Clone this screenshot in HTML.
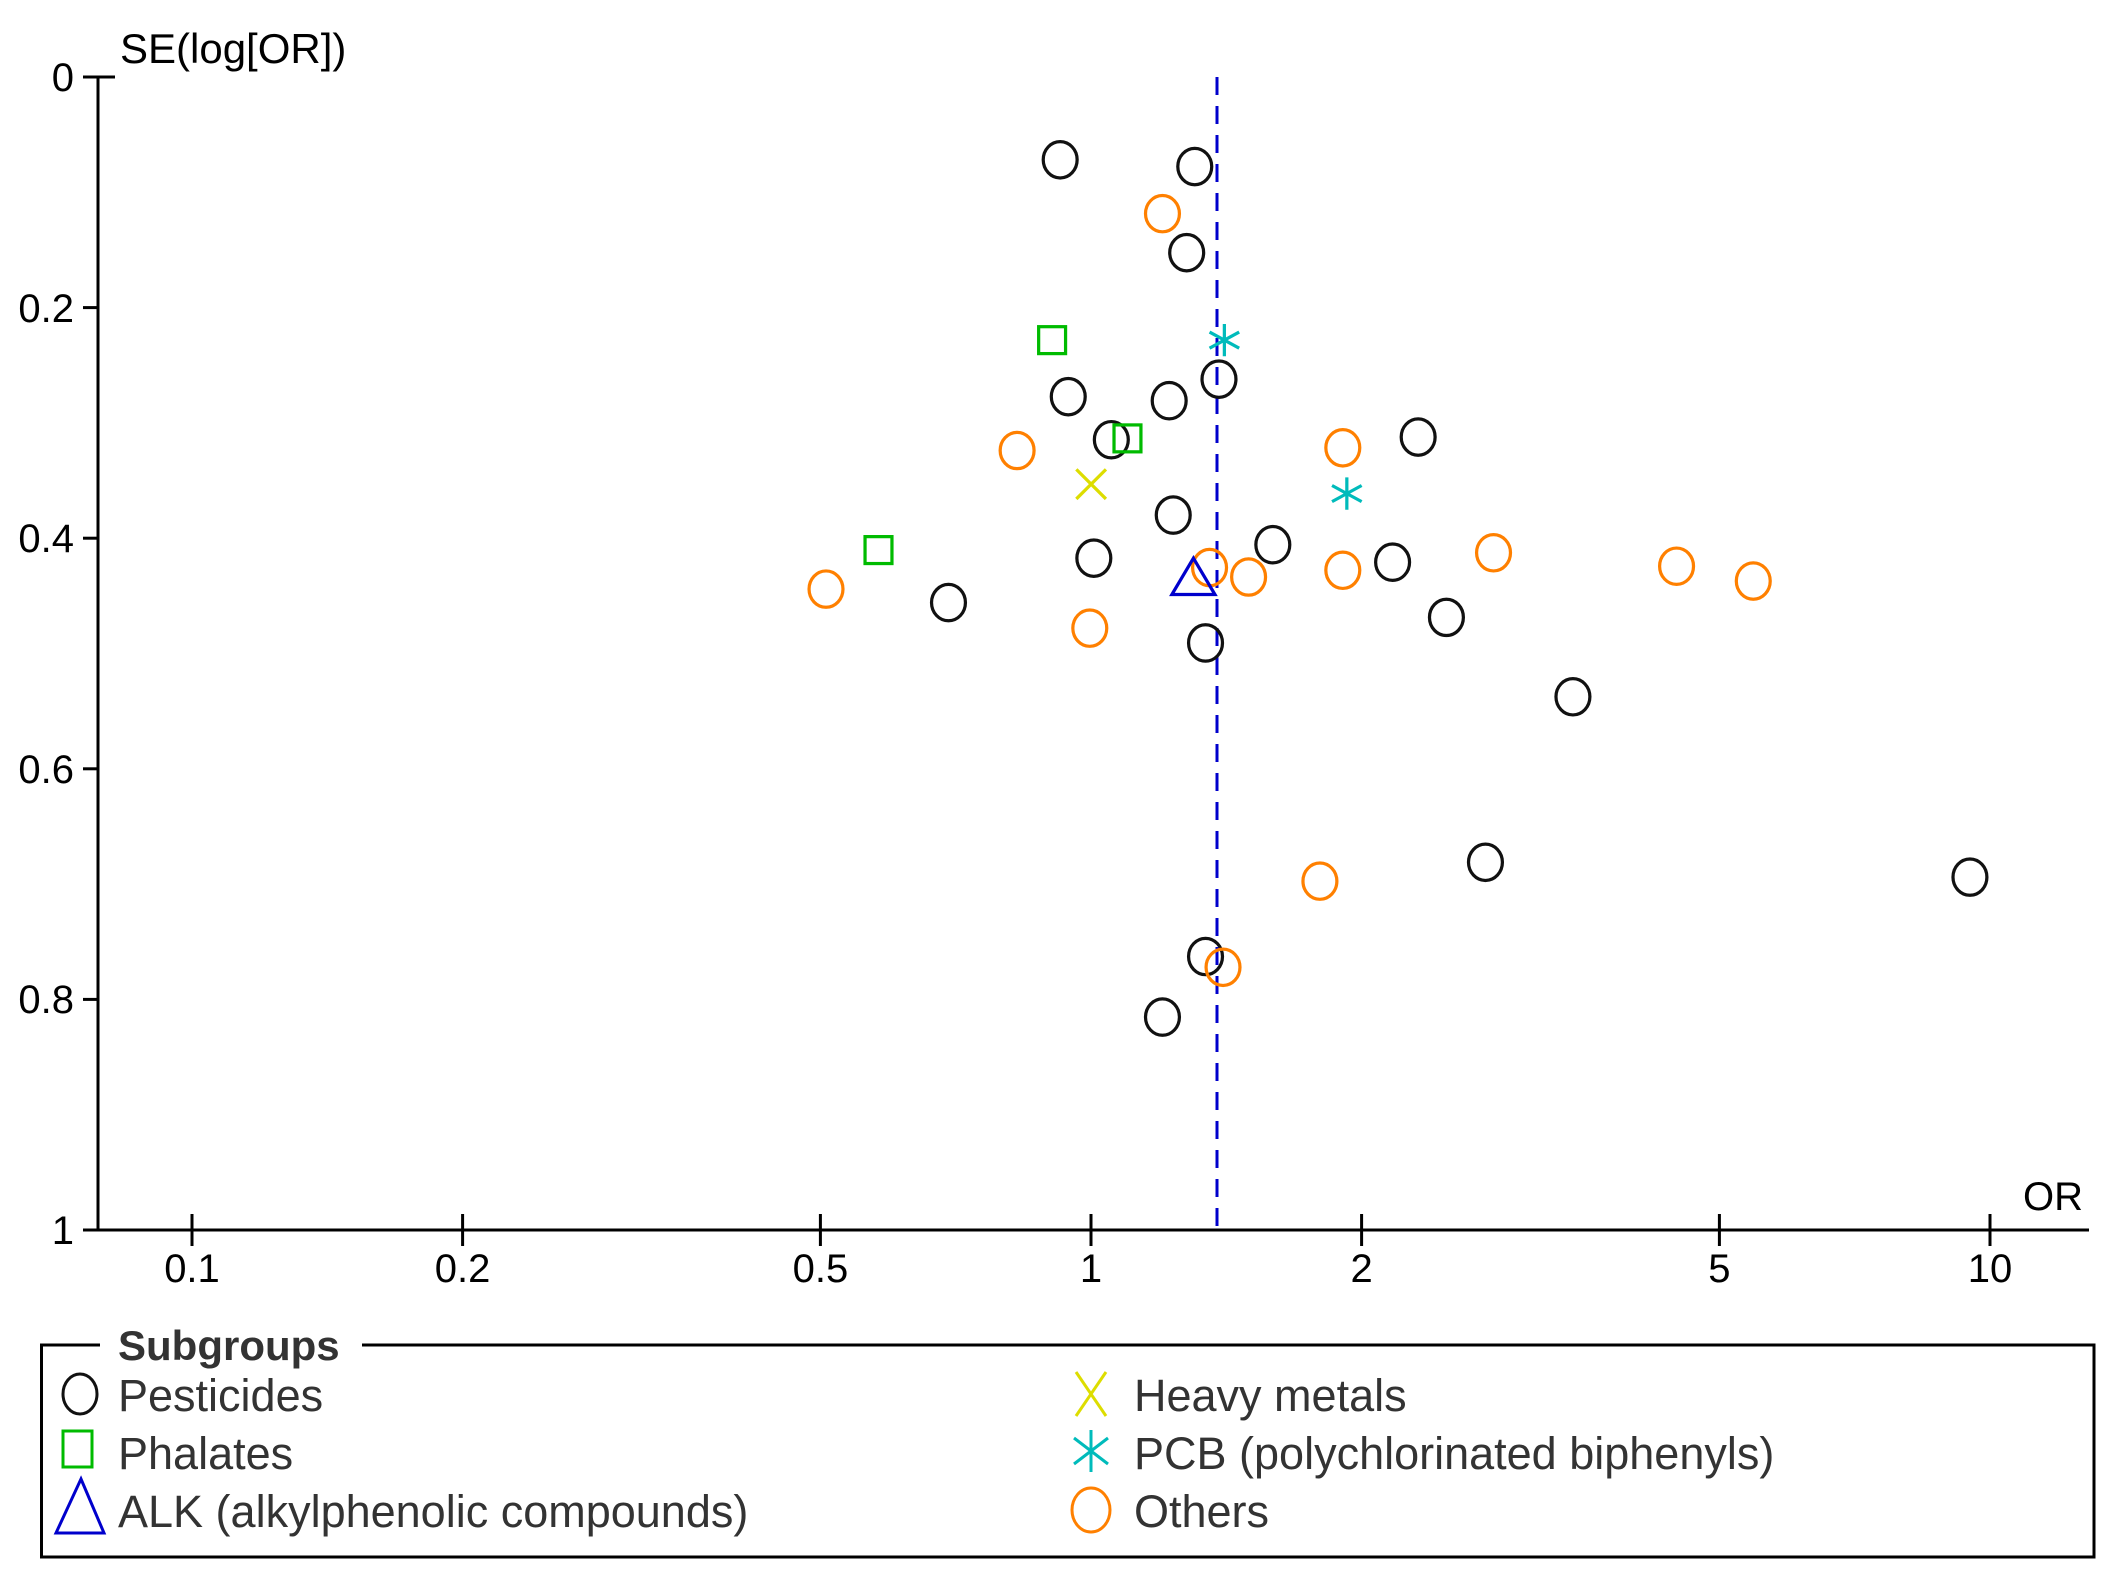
<!DOCTYPE html>
<html><head><meta charset="utf-8"><style>
html,body{margin:0;padding:0;background:#fff;}
svg{display:block;}
text{font-family:"Liberation Sans",sans-serif;}
</style></head><body>
<svg width="2108" height="1576" viewBox="0 0 2108 1576" xmlns="http://www.w3.org/2000/svg">
<rect width="2108" height="1576" fill="#fff"/>
<g stroke="#000" stroke-width="3" fill="none">
<line x1="98" y1="77" x2="98" y2="1230"/>
<line x1="83" y1="77" x2="115" y2="77"/>
<line x1="83" y1="307.6" x2="98" y2="307.6"/>
<line x1="83" y1="538.2" x2="98" y2="538.2"/>
<line x1="83" y1="768.8" x2="98" y2="768.8"/>
<line x1="83" y1="999.4" x2="98" y2="999.4"/>
<line x1="83" y1="1230" x2="2089" y2="1230"/>
<line x1="192" y1="1214" x2="192" y2="1246"/>
<line x1="462.6" y1="1214" x2="462.6" y2="1246"/>
<line x1="820.4" y1="1214" x2="820.4" y2="1246"/>
<line x1="1091" y1="1214" x2="1091" y2="1246"/>
<line x1="1361.6" y1="1214" x2="1361.6" y2="1246"/>
<line x1="1719.4" y1="1214" x2="1719.4" y2="1246"/>
<line x1="1990" y1="1214" x2="1990" y2="1246"/>
</g>
<g font-size="40" fill="#000" text-anchor="end">
<text x="74" y="91">0</text>
<text x="74" y="322">0.2</text>
<text x="74" y="552">0.4</text>
<text x="74" y="783">0.6</text>
<text x="74" y="1013">0.8</text>
<text x="74" y="1244">1</text>
</g>
<g font-size="40" fill="#000" text-anchor="middle">
<text x="192" y="1282">0.1</text>
<text x="462.6" y="1282">0.2</text>
<text x="820.4" y="1282">0.5</text>
<text x="1091" y="1282">1</text>
<text x="1361.6" y="1282">2</text>
<text x="1719.4" y="1282">5</text>
<text x="1990" y="1282">10</text>
</g>
<text x="120" y="63" font-size="42" fill="#000">SE(log[OR])</text>
<text x="2083" y="1210" font-size="40" fill="#000" text-anchor="end">OR</text>
<line x1="1217" y1="77" x2="1217" y2="1230" stroke="#0000cc" stroke-width="3" stroke-dasharray="18,11"/>
<g transform="matrix(1.3458,0,0,1.3458,-3,1)" fill="none" stroke-width="2.4">
<g stroke="#111">
<ellipse cx="790" cy="118" rx="12.6" ry="13.5"/><ellipse cx="890" cy="123" rx="12.6" ry="13.5"/><ellipse cx="884" cy="187" rx="12.6" ry="13.5"/>
<ellipse cx="908" cy="281" rx="12.6" ry="13.5"/><ellipse cx="796" cy="294" rx="12.6" ry="13.5"/><ellipse cx="871" cy="297" rx="12.6" ry="13.5"/>
<ellipse cx="828" cy="326" rx="12.6" ry="13.5"/><ellipse cx="1056" cy="324" rx="12.6" ry="13.5"/><ellipse cx="874" cy="382" rx="12.6" ry="13.5"/>
<ellipse cx="815" cy="414" rx="12.6" ry="13.5"/><ellipse cx="948" cy="404" rx="12.6" ry="13.5"/><ellipse cx="1037" cy="417" rx="12.6" ry="13.5"/>
<ellipse cx="707" cy="447" rx="12.6" ry="13.5"/><ellipse cx="1077" cy="458" rx="12.6" ry="13.5"/><ellipse cx="898" cy="477" rx="12.6" ry="13.5"/>
<ellipse cx="1171" cy="517" rx="12.6" ry="13.5"/><ellipse cx="1106" cy="640" rx="12.6" ry="13.5"/><ellipse cx="1466" cy="651" rx="12.6" ry="13.5"/>
<ellipse cx="898" cy="710" rx="12.6" ry="13.5"/><ellipse cx="866" cy="755" rx="12.6" ry="13.5"/>
</g>
<g stroke="#ff8000">
<ellipse cx="866" cy="158" rx="12.6" ry="13.5"/><ellipse cx="758" cy="334" rx="12.6" ry="13.5"/><ellipse cx="1000" cy="332" rx="12.6" ry="13.5"/>
<ellipse cx="616" cy="437" rx="12.6" ry="13.5"/><ellipse cx="812" cy="466" rx="12.6" ry="13.5"/><ellipse cx="901" cy="421" rx="12.6" ry="13.5"/>
<ellipse cx="930" cy="428" rx="12.6" ry="13.5"/><ellipse cx="1000" cy="423" rx="12.6" ry="13.5"/><ellipse cx="1112" cy="410" rx="12.6" ry="13.5"/>
<ellipse cx="1248" cy="420" rx="12.6" ry="13.5"/><ellipse cx="1305" cy="431" rx="12.6" ry="13.5"/><ellipse cx="983" cy="654" rx="12.6" ry="13.5"/>
<ellipse cx="911" cy="718" rx="12.6" ry="13.5"/>
</g>
<g stroke="#00bb00">
<rect x="774" y="242" width="20" height="20"/><rect x="830" y="315" width="20" height="20"/><rect x="645" y="398" width="20" height="20"/>
</g>
<g stroke="#dddd00"><path d="M802 348 L824 370 M824 348 L802 370"/></g>
<g stroke="#00bbbb">
<path d="M912 240 V264 M901 246 L923 258 M923 246 L901 258"/>
<path d="M1003 354 V378 M992 360 L1014 372 M1014 360 L992 372"/>
</g>
<path d="M889 414 L873 441 L905 441 Z" stroke="#0000cc"/>
</g>
<path d="M100 1345 H41.5 V1557 H2094 V1345 H362" fill="none" stroke="#000" stroke-width="3"/>
<text x="118" y="1360" font-size="42" font-weight="bold" fill="#333">Subgroups</text>
<g font-size="45" fill="#333">
<text x="118" y="1411">Pesticides</text>
<text x="118" y="1469">Phalates</text>
<text x="118" y="1527">ALK (alkylphenolic compounds)</text>
<text x="1134" y="1411">Heavy metals</text>
<text x="1134" y="1469">PCB (polychlorinated biphenyls)</text>
<text x="1134" y="1527">Others</text>
</g>
<g fill="none" stroke-width="3">
<ellipse cx="80" cy="1394" rx="17" ry="20" stroke="#111"/>
<rect x="63" y="1431" width="29" height="36" stroke="#00bb00"/>
<path d="M81 1479 L56 1533 L104 1533 Z" stroke="#0000cc"/>
<path d="M1076 1372 L1106 1416 M1106 1372 L1076 1416" stroke="#dddd00"/>
<path d="M1091 1430 V1472 M1074 1438 L1108 1464 M1108 1438 L1074 1464" stroke="#00bbbb"/>
<ellipse cx="1091" cy="1510" rx="19" ry="22" stroke="#ff8000"/>
</g>
</svg>
</body></html>
